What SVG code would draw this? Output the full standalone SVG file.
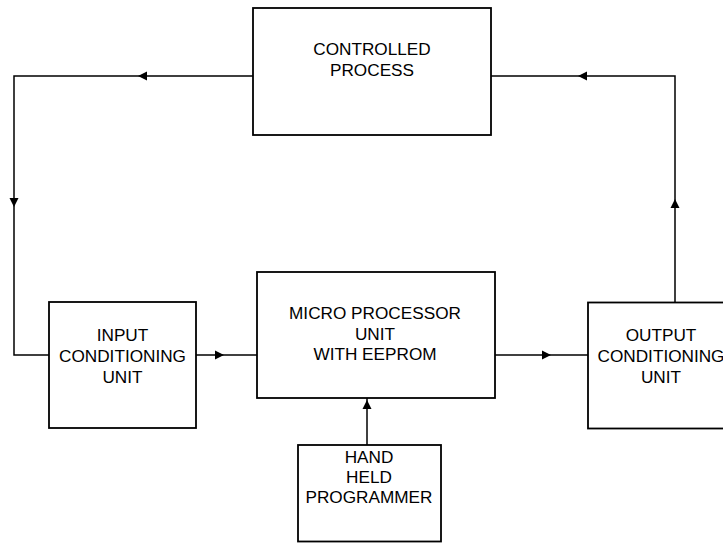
<svg xmlns="http://www.w3.org/2000/svg" width="723" height="543" viewBox="0 0 723 543">
<style>
.box{fill:#fff;stroke:#000;stroke-width:1.8}
.ln{fill:none;stroke:#000;stroke-width:1.5}
.ah{fill:#000;stroke:none}
text{font-family:"Liberation Sans",Arial,sans-serif;font-size:17.2px;fill:#000;text-anchor:middle}
</style>
<rect width="723" height="543" fill="#fff"/>
<g id="connectors">
<polyline class="ln" points="253,76 14,76 14,355 49,355"/>
<polygon class="ah" points="138,76 147,71.5 147,80.5"/>
<polygon class="ah" points="14,207 9.5,198 18.5,198"/>
<polyline class="ln" points="675,302 675,76 491,76"/>
<polygon class="ah" points="578,76 587,71.5 587,80.5"/>
<polygon class="ah" points="675,199 670.5,208 679.5,208"/>
<line class="ln" x1="196" y1="355" x2="257" y2="355"/>
<polygon class="ah" points="224,355 215,350.5 215,359.5"/>
<line class="ln" x1="495" y1="355" x2="588" y2="355"/>
<polygon class="ah" points="551,355 542,350.5 542,359.5"/>
<line class="ln" x1="367" y1="445" x2="367" y2="398"/>
<polygon class="ah" points="367,400 362.5,409 371.5,409"/>
</g>
<g id="controlled-process">
<rect class="box" x="253" y="8" width="238" height="127"/>
<text x="372" y="54.5">CONTROLLED</text>
<text x="372" y="75.5">PROCESS</text>
</g>
<g id="input-conditioning">
<rect class="box" x="49" y="302" width="147" height="126"/>
<text x="122.5" y="341">INPUT</text>
<text x="122.5" y="362">CONDITIONING</text>
<text x="122.5" y="382.5">UNIT</text>
</g>
<g id="micro-processor">
<rect class="box" x="257" y="272" width="238" height="126"/>
<text x="375" y="318.5">MICRO PROCESSOR</text>
<text x="375" y="339.5">UNIT</text>
<text x="375" y="360">WITH EEPROM</text>
</g>
<g id="output-conditioning">
<rect class="box" x="588" y="302.5" width="147" height="126"/>
<text x="661" y="341">OUTPUT</text>
<text x="661" y="362">CONDITIONING</text>
<text x="661" y="382.5">UNIT</text>
</g>
<g id="hand-held-programmer">
<rect class="box" x="298" y="445" width="143" height="96.5"/>
<text x="369" y="463">HAND</text>
<text x="369" y="483">HELD</text>
<text x="369" y="503">PROGRAMMER</text>
</g>
</svg>
